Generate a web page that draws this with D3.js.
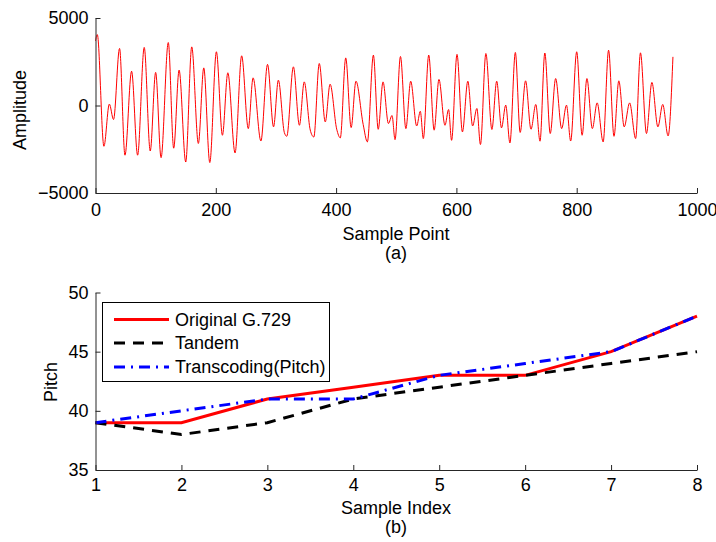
<!DOCTYPE html>
<html>
<head>
<meta charset="utf-8">
<script src="https://cdn.jsdelivr.net/npm/d3@7"></script>
<style>
  body { margin: 0; background: #fff; }
  svg { font-family: "Liberation Sans", Arial, sans-serif; font-size: 18px; }
</style>
</head>
<body>
<svg id="chart" width="716" height="542"></svg>
<script>
var waveIndex = [0, 3, 14, 23, 30, 40, 49, 60, 70, 81, 91, 100, 109, 121, 130, 139, 150, 160, 171, 180,
  190, 201, 211, 220, 232, 243, 254, 262, 275, 286, 296, 304, 314, 318, 329, 339, 347, 357, 363, 372,
  382, 390, 401, 407, 416, 425, 433, 445, 452, 462, 470, 478, 487, 493, 498, 507, 516, 524, 534, 540,
  545, 554, 563, 571, 581, 587, 592, 601, 610, 619, 627, 634, 640, 649, 659, 667, 675, 682, 689, 698,
  706, 715, 724, 732, 739, 747, 756, 765, 775, 783, 790, 800, 809, 817, 826, 834, 844, 853, 862, 870,
  879, 888, 898, 906, 916, 925, 935, 943, 952, 960];
var waveAmp = [3700, 4050, -2330, 80, -800, 3260, -2840, 1960, -2840, 3320, -2600, 1890, -2980, 3600, -2440, 2020, -3230, 3350, -2170, 2150,
  -3260, 3070, -1700, 1870, -2710, 2840, -1320, 1580, -2030, 2350, -1220, 1450, -1550, -1760, 2210, -1130, 1350, -1400, -1800, 2400,
  -940, 1220, -1350, -1850, 2720, -1260, 1390, -1080, -2080, 2880, -1360, 1350, -1030, -570, -1950, 2800, -1320, 1390, -1170, -330,
  -1890, 2880, -1410, 1490, -1130, -230, -1990, 2920, -1510, 1390, -1170, -170, -2230, 2970, -1370, 1390, -1280, 20, -2140, 3030,
  -1540, 1410, -1360, 60, -2040, 3000, -1600, 1540, -1320, 20, -2030, 3070, -1700, 1540, -1320, 150, -2080, 3160, -1760, 1410,
  -1220, 150, -1890, 3010, -1600, 1320, -1220, 60, -1740, 2780];
var waveXTicks = [0, 200, 400, 600, 800, 1000];
var waveYTicks = [-5000, 0, 5000];

// (b) pitch per sample index
var sampleIndex = [1, 2, 3, 4, 5, 6, 7, 8];
var pitchOriginal = [39, 39, 41, 42, 43, 43, 45, 48];
var pitchTandem = [39, 38, 39, 41, 42, 43, 44, 45];
var pitchTranscoding = [39, 40, 41, 41, 43, 44, 45, 48];
var pitchYTicks = [35, 40, 45, 50];
var seriesNames = ["Original G.729", "Tandem", "Transcoding(Pitch)"];

var svg = d3.select("#chart");
var axisColor = "#262626";

// d3 axes set their own 10px font, put ours back
function styleAxis(g) {
  g.attr("font-size", null).attr("font-family", null);
  g.selectAll("text").attr("fill", "#000");
}

// ---------- panel (a) ----------
var xA = d3.scaleLinear().domain([0, 1000]).range([95.5, 697]);
var yA = d3.scaleLinear().domain([-5000, 5000]).range([193, 18]);

var gA = svg.append("g");
gA.append("path")
    .datum(d3.range(waveIndex.length))
    .attr("fill", "none")
    .attr("stroke", "#ff0000")
    .attr("stroke-width", 1)
    .attr("d", d3.line()
        .curve(d3.curveMonotoneX)
        .x(function(i) { return xA(waveIndex[i]); })
        .y(function(i) { return yA(waveAmp[i]); }));

gA.append("g")
    .attr("transform", "translate(0,193)")
    .style("color", axisColor)
    .call(d3.axisBottom(xA).tickValues(waveXTicks).tickFormat(d3.format("d"))
        .tickSize(-5).tickSizeOuter(0).tickPadding(10))
    .call(styleAxis);
gA.append("g")
    .attr("transform", "translate(95.5,0)")
    .style("color", axisColor)
    .call(d3.axisLeft(yA).tickValues(waveYTicks).tickFormat(d3.format("d"))
        .tickSize(-5).tickSizeOuter(0).tickPadding(7))
    .call(styleAxis);

gA.append("text").attr("x", 396).attr("y", 240).attr("text-anchor", "middle").text("Sample Point");
gA.append("text").attr("x", 396).attr("y", 259).attr("text-anchor", "middle").text("(a)");
gA.append("text")
    .attr("transform", "translate(26,110) rotate(-90)")
    .attr("text-anchor", "middle")
    .text("Amplitude");

// ---------- panel (b) ----------
var xB = d3.scaleLinear().domain([1, 8]).range([95.5, 697]);
var yB = d3.scaleLinear().domain([35, 50]).range([470, 292.5]);

var series = [
  { name: seriesNames[0], values: pitchOriginal, color: "#ff0000", dash: null },
  { name: seriesNames[1], values: pitchTandem, color: "#000000", dash: "11,8" },
  { name: seriesNames[2], values: pitchTranscoding, color: "#0000ff", dash: "11,6,2,6" }
];

var pitchLine = d3.line()
    .x(function(d, i) { return xB(sampleIndex[i]); })
    .y(function(d) { return yB(d); });

var gB = svg.append("g");
gB.selectAll("path.series")
    .data(series)
    .enter().append("path")
    .attr("class", "series")
    .attr("fill", "none")
    .attr("stroke", function(d) { return d.color; })
    .attr("stroke-width", 3)
    .attr("stroke-dasharray", function(d) { return d.dash; })
    .attr("d", function(d) { return pitchLine(d.values); });

gB.append("g")
    .attr("transform", "translate(0,470)")
    .style("color", axisColor)
    .call(d3.axisBottom(xB).tickValues(sampleIndex).tickFormat(d3.format("d"))
        .tickSize(-5).tickSizeOuter(0).tickPadding(8))
    .call(styleAxis);
gB.append("g")
    .attr("transform", "translate(95.5,0)")
    .style("color", axisColor)
    .call(d3.axisLeft(yB).tickValues(pitchYTicks).tickFormat(d3.format("d"))
        .tickSize(-5).tickSizeOuter(0).tickPadding(7))
    .call(styleAxis);

gB.append("text").attr("x", 396).attr("y", 514).attr("text-anchor", "middle").text("Sample Index");
gB.append("text").attr("x", 396).attr("y", 533).attr("text-anchor", "middle").text("(b)");
gB.append("text")
    .attr("transform", "translate(56.5,382) rotate(-90)")
    .attr("text-anchor", "middle")
    .text("Pitch");

// legend
var legend = gB.append("g");
legend.append("rect")
    .attr("x", 102.5).attr("y", 302.5)
    .attr("width", 227).attr("height", 79)
    .attr("fill", "#fff").attr("stroke", "#000").attr("stroke-width", 1);
var rowY = [319.5, 343, 367];
var item = legend.selectAll("g.item")
    .data(series)
    .enter().append("g")
    .attr("class", "item")
    .attr("transform", function(d, i) { return "translate(0," + rowY[i] + ")"; });
item.append("line")
    .attr("x1", 114).attr("x2", 169)
    .attr("stroke", function(d) { return d.color; })
    .attr("stroke-width", 3)
    .attr("stroke-dasharray", function(d) { return d.dash; });
item.append("text")
    .attr("x", 175).attr("dy", "0.35em")
    .text(function(d) { return d.name; });
</script>
</body>
</html>
